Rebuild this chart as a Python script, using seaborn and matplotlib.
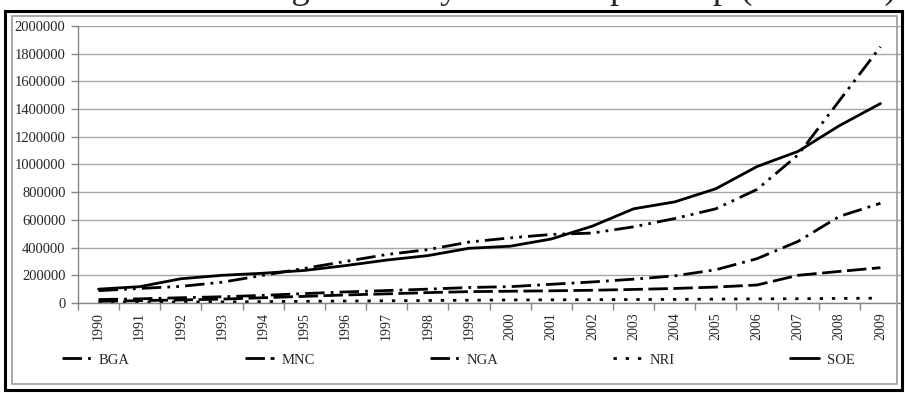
import pandas as pd
import seaborn as sns
import matplotlib.pyplot as plt
from matplotlib.patches import Rectangle
from matplotlib.ticker import FuncFormatter

# data
years = list(range(1990, 2010))
groups = ["BGA", "MNC", "NGA", "NRI", "SOE"]

bga = [89000, 105000, 120000, 150000, 200000, 250000, 300000, 350000, 385000, 440000,
       470000, 495000, 505000, 550000, 610000, 680000, 820000, 1070000, 1460000, 1850000]
mnc = [12000, 17000, 22000, 28000, 38000, 48000, 58000, 66000, 75000, 82000,
       85000, 88000, 92000, 98000, 105000, 115000, 130000, 200000, 228000, 255000]
nga = [25000, 30000, 38000, 45000, 55000, 68000, 80000, 90000, 100000, 112000,
       118000, 135000, 152000, 172000, 196000, 240000, 320000, 445000, 625000, 720000]
nri = [3000, 5000, 6000, 8000, 10000, 12000, 14000, 16000, 18000, 20000,
       22000, 23000, 24000, 25000, 26000, 28000, 30000, 31000, 33000, 35000]
soe = [100000, 118000, 175000, 200000, 215000, 235000, 270000, 310000, 342000, 395000,
       410000, 462000, 555000, 680000, 730000, 825000, 985000, 1095000, 1280000, 1440000]

title = "Growth of Working Assets by Ownership Group (Rs. crore)"

df = pd.DataFrame({"year": years, "BGA": bga, "MNC": mnc, "NGA": nga,
                   "NRI": nri, "SOE": soe})
dfm = df.melt("year", var_name="group", value_name="assets")

# line styles (in units of line width)
dash_map = {
    "BGA": (7, 2.2, 1, 2.2, 1, 2.2),
    "MNC": (7, 2),
    "NGA": (7, 2.2, 1, 2.2),
    "NRI": (1.2, 3.2),
    "SOE": "",
}

sns.set_style("white")
plt.rcParams['font.family'] = ['Liberation Serif', 'DejaVu Serif']

fig = plt.figure(figsize=(9.05, 3.93), dpi=100)
W, H = 905, 393
ax = fig.add_axes([78 / W, 1 - 303 / H, (901 - 78) / W, (303 - 26) / H])

sns.lineplot(data=dfm, x="year", y="assets", hue="group", style="group",
             hue_order=groups, style_order=groups,
             palette={g: "black" for g in groups}, dashes=dash_map,
             estimator=None, errorbar=None, linewidth=2.0,
             legend=False, ax=ax)

ax.set_xlabel("")
ax.set_ylabel("")
ax.set_xlim(1989.5, 2009.5)
ax.set_ylim(0, 2000000)

# category axis: labels at centres, tick marks between categories
ax.set_xticks(years)
ax.set_xticklabels([str(y) for y in years], rotation=90, fontsize=10)
ax.set_xticks([y - 0.5 for y in years] + [2009.5], minor=True)
ax.tick_params(axis="x", which="major", length=0, pad=6.5)
ax.tick_params(axis="x", which="minor", length=5, width=1, color="#868686",
               direction="out", bottom=True)

ax.set_yticks(range(0, 2000001, 200000))
ax.yaxis.set_major_formatter(FuncFormatter(lambda v, p: f"{int(v)}"))
ax.tick_params(axis="y", length=5, width=1, color="#868686", direction="out",
               left=True, labelsize=10.5, pad=4)

ax.yaxis.grid(True, color="#a6a6a6", lw=1.0)
ax.xaxis.grid(False)
ax.set_axisbelow(True)
for s in ["top", "right"]:
    ax.spines[s].set_visible(False)
for s in ["left", "bottom"]:
    ax.spines[s].set_color("#868686")
    ax.spines[s].set_linewidth(1)

fig.legend(ax.lines, groups, loc="center left",
           bbox_to_anchor=(62 / W, 1 - 360 / H), ncol=5, frameon=False,
           fontsize=10.5, handlelength=2.0, handletextpad=0.5,
           columnspacing=7.9, borderpad=0, borderaxespad=0)

# chart frame: black outer line, grey inner line
fig.patches.append(Rectangle((5 / W, 1 - 390 / H), (902 - 5) / W, (390 - 10.5) / H,
                             transform=fig.transFigure, fill=False,
                             ec="black", lw=2.2))
fig.patches.append(Rectangle((11.5 / W, 1 - 384 / H), (897 - 11.5) / W, (384 - 16) / H,
                             transform=fig.transFigure, fill=False,
                             ec="#9a9a9a", lw=1.2))

# title, mostly cut off by the top edge (only the lower part shows)
t = fig.text(22 / W, 1 - 6 / H, title, fontsize=24, ha="left", va="bottom")
fig.canvas.draw()
w = t.get_window_extent().width
t.set_fontsize(24 * 875 / w)

plt.savefig("out.png", dpi=100)
plt.close()
